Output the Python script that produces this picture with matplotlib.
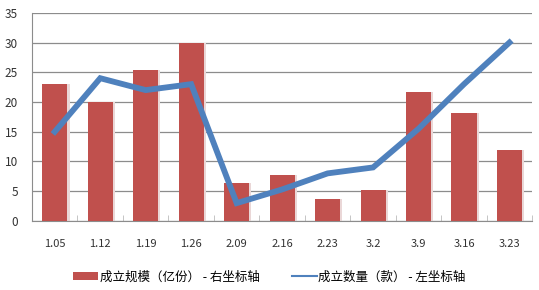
import numpy as np
import matplotlib.pyplot as plt
from matplotlib.lines import Line2D

plt.rcParams['font.family'] = ['Noto Sans CJK SC', 'DejaVu Sans']

# 数据
dates = ['1.05', '1.12', '1.19', '1.26', '2.09', '2.16', '2.23', '3.2', '3.9', '3.16', '3.23']
scale = [23.0, 20.0, 25.3, 30.0, 6.4, 7.8, 3.7, 5.2, 21.7, 18.1, 11.9]   # 成立规模（亿份）
count = [15, 24, 22, 23, 3, 5.3, 8, 9, 15.5, 23, 30]                    # 成立数量（款）

bar_color = '#C0504D'
line_color = '#4F81BD'
grid_color = '#8C8C8C'

fig = plt.figure(figsize=(5.39, 2.90), dpi=100)
ax = fig.add_axes([0.0594, 0.238, 0.928, 0.718])

x = np.arange(len(dates))

# 柱子的阴影
ax.bar(x + 0.05, scale, width=0.55, color='#EAD7D7', zorder=2)
bars = ax.bar(x, scale, width=0.55, color=bar_color, zorder=3,
              label='成立规模（亿份） - 右坐标轴')
ax.plot(x, count, color=line_color, linewidth=4.2, zorder=4, solid_joinstyle='miter')

ax.set_xlim(-0.5, len(dates) - 0.5)
ax.set_ylim(0, 35)
ax.set_yticks(range(0, 36, 5))
ax.yaxis.grid(True, color=grid_color, linewidth=0.9, zorder=0)
ax.set_axisbelow(True)

ax.set_xticks(x)
ax.set_xticklabels(dates)
ax.set_xticks(np.arange(-0.5, len(dates), 1), minor=True)
ax.tick_params(axis='x', which='major', length=0, pad=13, labelsize=8, labelcolor='#333333')
ax.tick_params(axis='x', which='minor', length=4, color='#BBBBBB', direction='in')
ax.tick_params(axis='y', length=0, pad=10, labelsize=8.5, labelcolor='#333333')

for s in ['top', 'right']:
    ax.spines[s].set_visible(False)
ax.spines['left'].set_color(grid_color)
ax.spines['bottom'].set_color(grid_color)

# 图例里的线画细一些
line_handle = Line2D([], [], color=line_color, linewidth=1.5)
fig.legend(handles=[bars, line_handle],
           labels=['成立规模（亿份） - 右坐标轴', '成立数量（款） - 左坐标轴'],
           loc='center', bbox_to_anchor=(0.5, 0.045), ncol=2,
           frameon=False, fontsize=9, handlelength=2.0, handleheight=0.5,
           columnspacing=2.6, handletextpad=0.1)

fig.savefig('out.png', dpi=100)
